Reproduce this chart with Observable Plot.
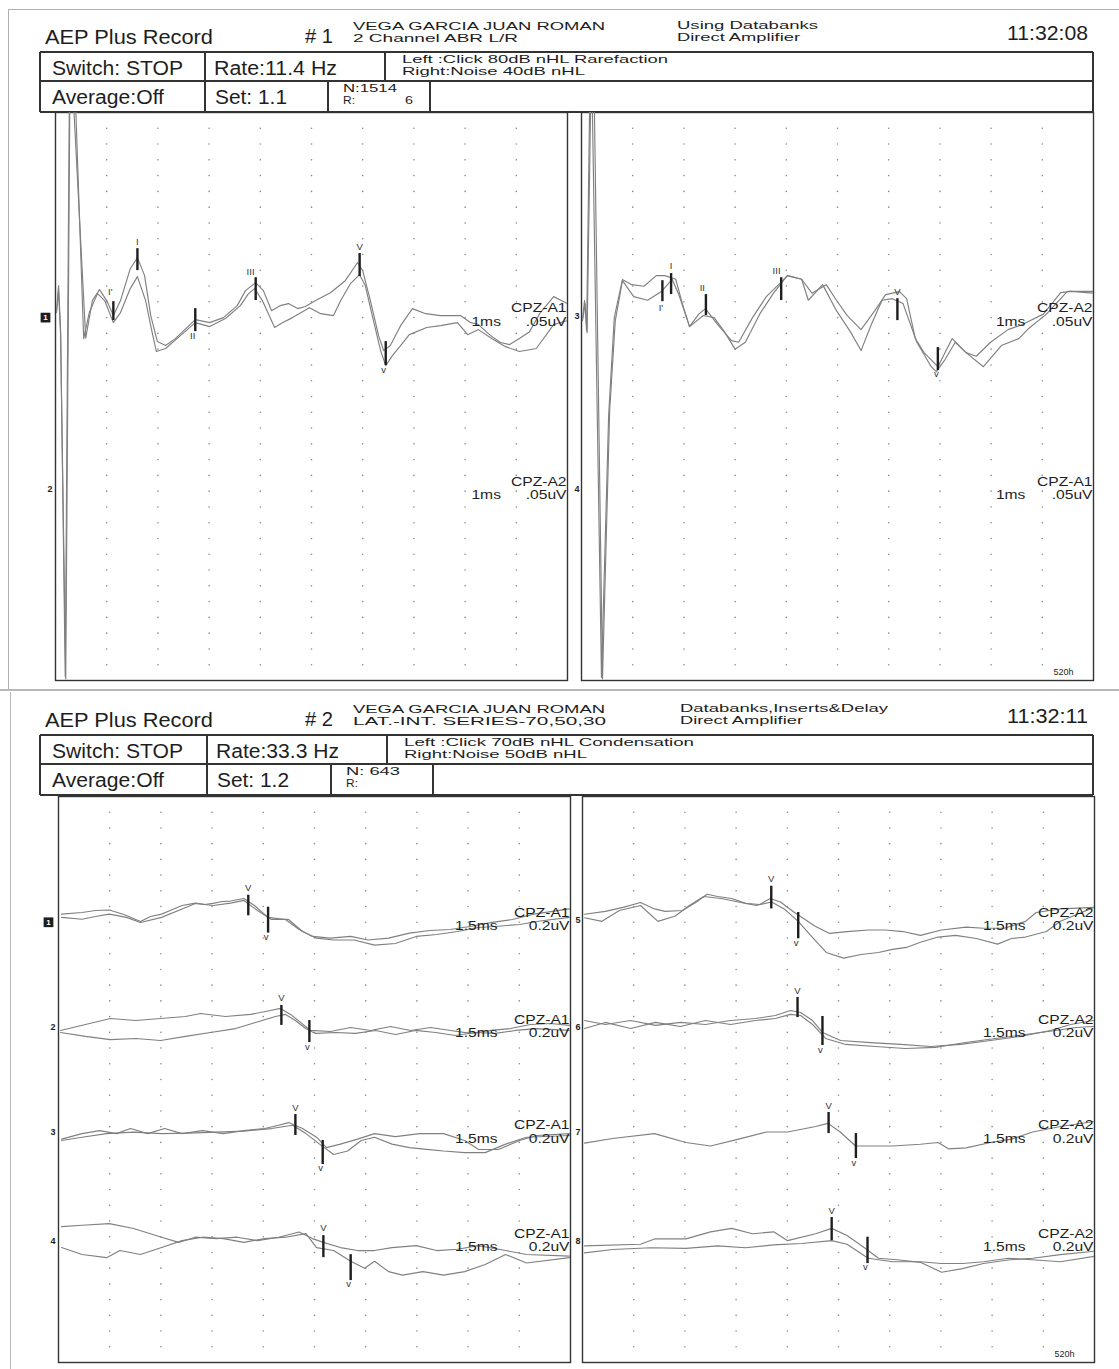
<!DOCTYPE html>
<html><head><meta charset="utf-8">
<script src="https://cdn.jsdelivr.net/npm/d3@7"></script>
<script src="https://cdn.jsdelivr.net/npm/@observablehq/plot@0.6"></script>
<style>
body{margin:0;background:#fff;}
#page{position:relative;width:1119px;height:1369px;overflow:hidden;background:#fff;font-family:"Liberation Sans",Arial,sans-serif;color:#1e1e1e;}
.t{position:absolute;white-space:nowrap;transform-origin:0 50%;line-height:1;}
.ln{position:absolute;}
.plot{position:absolute;}
</style></head><body><div id="page"></div>
<script>
// ---------------- DATA ----------------
// header texts
const rec1Header = {title:"AEP Plus Record", num:"# 1", patient:"VEGA GARCIA JUAN ROMAN", protocol:"2 Channel ABR L/R",
  bank:"Using Databanks", amp:"Direct Amplifier", time:"11:32:08", sw:"Switch: STOP", rate:"Rate:11.4 Hz",
  left:"Left :Click 80dB nHL Rarefaction", right:"Right:Noise 40dB nHL", avg:"Average:Off", set:"Set: 1.1", n:"N:1514", r:"R:", rv:"6"};
const rec2Header = {title:"AEP Plus Record", num:"# 2", patient:"VEGA GARCIA JUAN ROMAN", protocol:"LAT.-INT. SERIES-70,50,30",
  bank:"Databanks,Inserts&Delay", amp:"Direct Amplifier", time:"11:32:11", sw:"Switch: STOP", rate:"Rate:33.3 Hz",
  left:"Left :Click 70dB nHL Condensation", right:"Right:Noise 50dB nHL", avg:"Average:Off", set:"Set: 1.2", n:"N: 643", r:"R:", rv:""};

// channel baselines (grid rows from top of panel, 36 rows)
const rec1Base = [13, 24];
const rec2Base = [8, 14.8, 21.5, 28.4];
const rec1LeftNames = ["CPZ-A1","CPZ-A2"];
const rec1RightNames = ["CPZ-A2","CPZ-A1"];
const rec2LeftNames = ["CPZ-A1","CPZ-A1","CPZ-A1","CPZ-A1"];
const rec2RightNames = ["CPZ-A2","CPZ-A2","CPZ-A2","CPZ-A2"];
const rec1LeftNums = ["1","2"], rec1RightNums = ["3","4"];
const rec2LeftNums = ["1","2","3","4"], rec2RightNums = ["5","6","7","8"];

// traces: [time ms, amplitude in grid divisions above baseline]
const r1L_ch1_a = [[0.02,0.44],[0.06,2.03],[0.10,-0.82],[0.19,-22.75],[0.27,13.75],[0.35,13.75],[0.59,-1.3],[0.72,1.08],[0.86,1.77],[1.0,1.08],[1.13,0.13],[1.27,1.08],[1.46,3.1],[1.60,3.80],[1.74,2.66],[1.86,0.13],[1.99,-1.52],[2.15,-1.77],[2.34,-1.33],[2.73,-0.13],[3.01,-0.32],[3.28,0],[3.55,0.76],[3.71,1.71],[3.91,2.22],[4.06,1.71],[4.22,0.44],[4.39,0.76],[4.55,0.89],[4.73,0.57],[4.88,0.70],[5.08,1.08],[5.37,1.58],[5.66,2.34],[5.90,3.49],[6.00,2.98],[6.15,1.08],[6.31,-1.14],[6.41,-2.09],[6.54,-1.77],[6.74,-0.51],[6.97,0.57],[7.23,0.25],[7.52,0.13],[7.91,0.13],[8.11,-0.32],[8.26,-0.44],[8.50,-1.14],[8.69,-1.58],[8.87,-1.71],[9.06,-1.33],[9.26,-0.89],[9.47,0.32],[9.73,1.33],[10.0,0.89]];
const r1L_ch1_b = [[0.02,0.32],[0.06,1.71],[0.10,-1.14],[0.20,-22.9],[0.28,13.75],[0.39,13.75],[0.55,-1.33],[0.66,0.32],[0.82,1.52],[0.96,1.08],[1.13,-0.32],[1.27,0.32],[1.46,1.84],[1.60,2.60],[1.76,1.08],[1.88,-0.82],[1.97,-2.15],[2.15,-1.96],[2.44,-1.14],[2.73,-0.32],[3.01,-0.57],[3.32,-0.06],[3.61,0.76],[3.77,1.52],[3.89,1.84],[4.04,1.08],[4.28,-0.63],[4.43,-0.32],[4.63,0],[4.96,0.63],[5.18,0.25],[5.43,0.13],[5.57,1.08],[5.76,2.15],[5.94,2.72],[6.05,2.03],[6.21,-0.19],[6.35,-2.09],[6.45,-3.04],[6.58,-2.41],[6.74,-1.77],[6.91,-1.08],[7.25,-0.63],[7.52,-0.51],[7.85,-0.32],[8.05,-1.08],[8.26,-0.76],[8.52,-1.33],[8.79,-1.84],[9.06,-2.15],[9.39,-1.96],[9.73,-0.44],[10.0,-0.19]];
const r1R_ch1_a = [[0.02,-0.06],[0.06,1.08],[0.10,-0.82],[0.16,13.75],[0.21,13.75],[0.39,-22.8],[0.53,-6.21],[0.64,0],[0.80,2.41],[0.98,2.09],[1.22,1.99],[1.46,2.66],[1.63,2.66],[1.84,2.43],[1.97,0.89],[2.11,-0.57],[2.29,0.22],[2.42,0.57],[2.66,-0.44],[2.93,-1.46],[3.07,-1.56],[3.34,0],[3.61,1.33],[3.89,2.22],[4.02,2.66],[4.30,2.43],[4.50,1.55],[4.78,2.09],[4.98,1.10],[5.19,0.13],[5.46,-0.76],[5.73,0.44],[5.94,1.46],[6.21,1.65],[6.35,1.20],[6.52,-1.33],[6.69,-2.22],[6.96,-3.11],[7.24,-1.33],[7.51,-2.22],[7.71,-2.45],[7.99,-1.56],[8.33,-0.76],[8.61,-0.44],[9.02,0.22],[9.36,1.58],[9.56,1.66],[10.0,1.55]];
const r1R_ch1_b = [[0.02,-0.19],[0.07,0.89],[0.11,-0.95],[0.18,13.75],[0.25,13.75],[0.41,-22.9],[0.55,-5.89],[0.66,-0.19],[0.80,2.34],[1.02,1.33],[1.29,1.10],[1.56,1.65],[1.77,2.43],[1.90,1.46],[2.11,-0.57],[2.38,0.13],[2.59,0],[2.79,-0.89],[3.00,-2.00],[3.20,-1.56],[3.48,0.22],[3.75,1.55],[4.02,2.66],[4.30,2.43],[4.43,1.10],[4.71,2.09],[4.98,0.44],[5.25,-0.89],[5.46,-2.09],[5.66,-0.44],[5.87,1.10],[6.07,1.20],[6.28,0.89],[6.55,-1.56],[6.83,-3.11],[6.93,-3.42],[7.10,-2.66],[7.30,-1.56],[7.51,-2.22],[7.85,-3.11],[8.20,-1.77],[8.54,-1.33],[8.74,-0.67],[9.08,0.22],[9.49,1.66],[10.0,1.66]];

const r2L_ch1_a = [[0.09,0.52],[0.69,0.62],[1.08,0.75],[1.49,0.78],[1.82,0.56],[1.99,0.43],[2.40,0.05],[2.70,0.37],[3.02,0.52],[3.34,0.81],[3.62,1.07],[4.01,1.22],[4.28,1.13],[4.53,1.20],[4.80,1.32],[5.04,1.35],[5.43,1.51],[5.74,1.07],[6.14,0.31],[6.65,0.18],[7.05,-0.46],[7.44,-0.90],[7.96,-1.01],[8.56,-0.90],[9.07,-1.13],[9.67,-1.01],[10.28,-0.69],[10.88,-0.52],[11.48,-0.46],[12.10,-0.25],[12.70,-0.01],[13.30,0.18],[13.92,0.52],[14.97,0.85]];
const r2L_ch1_b = [[0.09,0.31],[0.69,0.19],[1.08,0.37],[1.49,0.52],[1.99,0.31],[2.40,-0.01],[3.02,0.31],[3.62,0.85],[4.01,1.20],[4.53,1.07],[5.04,1.22],[5.43,1.39],[5.83,0.75],[6.24,0.18],[6.74,0.18],[7.15,-0.59],[7.56,-1.01],[8.06,-1.13],[8.66,-1.13],[9.26,-1.45],[9.87,-1.35],[10.48,-0.90],[11.08,-0.78],[11.69,-0.59],[12.30,-0.33],[12.89,-0.25],[13.51,-0.14],[14.11,0.08],[14.97,0.31]];
const r2L_ch2_a = [[0.06,-0.08],[0.79,0.30],[1.52,0.68],[2.26,0.55],[2.99,0.68],[3.72,0.81],[4.16,1.0],[4.89,0.81],[5.63,0.94],[6.21,1.19],[6.50,1.32],[6.80,0.94],[7.09,0.43],[7.38,-0.08],[7.97,-0.15],[8.56,0.11],[9.14,-0.08],[9.73,0.17],[10.31,-0.08],[10.9,0.11],[11.49,-0.08],[12.07,-0.27],[12.66,-0.08],[13.24,0.04],[13.83,0.30],[14.42,0.36],[14.97,0.24]];
const r2L_ch2_b = [[0.06,-0.21],[0.79,-0.46],[1.52,-0.66],[2.26,-0.59],[2.99,-0.72],[3.72,-0.46],[4.45,-0.21],[5.19,0.04],[5.77,0.43],[6.36,0.81],[6.65,0.94],[6.94,0.55],[7.24,0.04],[7.53,-0.27],[8.12,-0.21],[8.70,-0.27],[9.29,-0.08],[9.87,-0.34],[10.46,-0.08],[11.05,-0.21],[11.63,-0.40],[12.22,-0.21],[12.80,-0.27],[13.39,-0.08],[13.98,0.04],[14.97,-0.08]];
const r2L_ch3_a = [[0.09,-0.29],[0.69,0.06],[1.20,0.25],[1.70,0.06],[2.11,0.38],[2.61,0.06],[3.11,0.38],[3.62,0.06],[4.22,0.25],[4.83,0.06],[5.43,0.25],[6.04,0.38],[6.45,0.59],[6.74,0.76],[7.15,0.38],[7.56,-0.17],[7.85,-0.83],[8.26,-0.61],[8.76,-0.29],[9.26,0.06],[9.87,-0.13],[10.58,0.06],[11.28,0.06],[11.90,-0.38],[12.31,-0.95],[12.89,-0.95],[13.51,-0.38],[14.01,-0.06],[14.97,0.06]];
const r2L_ch3_b = [[0.09,-0.38],[0.69,-0.17],[1.41,0.06],[2.20,0.15],[3.02,0.06],[3.81,0.09],[4.63,0.15],[5.43,0.22],[6.24,0.38],[6.86,0.59],[7.25,0.06],[7.65,-0.61],[8.06,-1.27],[8.47,-1.05],[8.87,-0.38],[9.26,-0.17],[9.77,-0.61],[10.28,-0.83],[10.78,-0.94],[11.28,-1.05],[11.90,-1.15],[12.50,-1.15],[13.10,-0.61],[13.71,-0.17],[14.97,-0.06]];
const r2L_ch4_a = [[0.09,1.04],[0.69,1.13],[1.49,1.23],[2.20,0.92],[3.02,0.37],[3.52,0.04],[4.01,0.37],[4.63,0.28],[5.23,0.37],[5.83,0.15],[6.45,0.37],[7.05,0.70],[7.44,0.28],[7.76,0.04],[8.26,-0.29],[8.76,-0.48],[9.26,-0.48],[9.77,-0.29],[10.48,-0.17],[11.08,-0.48],[11.69,-0.40],[12.30,-0.17],[13.10,-0.48],[13.71,-0.73],[14.97,-0.83]];
const r2L_ch4_b = [[0.09,-0.29],[0.69,-0.73],[1.41,-0.93],[1.80,-0.48],[2.40,-0.73],[3.02,-0.29],[3.62,0.15],[4.22,0.37],[4.83,0.28],[5.43,0.04],[6.04,0.28],[6.65,0.37],[7.25,0.60],[7.56,-0.29],[8.06,-0.48],[8.56,-1.16],[8.97,-1.60],[9.26,-1.16],[9.67,-1.82],[10.08,-2.04],[10.68,-1.82],[11.28,-2.04],[11.90,-1.82],[12.50,-1.37],[13.10,-0.73],[13.71,-1.27],[14.97,-0.93]];

const r2R_ch5_a = [[0.06,0.51],[0.67,0.69],[1.19,0.95],[1.70,1.26],[2.11,0.85],[2.42,0.69],[2.93,0.75],[3.34,1.29],[3.65,1.78],[3.96,1.64],[4.37,1.51],[4.78,1.20],[5.19,1.13],[5.50,1.51],[5.80,1.29],[6.21,0.62],[6.83,-0.27],[7.24,-0.71],[7.75,-0.59],[8.37,-0.49],[8.88,-0.49],[9.39,-0.59],[9.90,-0.83],[10.52,-0.49],[11.24,-0.31],[11.75,-0.38],[12.36,-0.38],[12.98,0.06],[13.29,0.62],[14.0,0.85],[14.99,0.95]];
const r2R_ch5_b = [[0.06,0.29],[0.57,0.06],[1.08,0.75],[1.70,1.07],[2.21,0.06],[2.72,0.40],[3.13,1.07],[3.55,1.64],[4.06,1.51],[4.57,1.29],[5.09,1.07],[5.54,1.29],[5.91,0.85],[6.32,0.06],[6.73,-0.94],[7.14,-1.92],[7.65,-2.28],[8.16,-2.05],[8.67,-1.92],[9.08,-1.72],[9.49,-1.60],[9.90,-1.27],[10.42,-0.94],[10.93,-0.83],[11.54,-1.03],[12.16,-1.39],[12.57,-1.03],[12.98,-0.94],[13.59,-0.59],[14.0,0.06],[14.99,0.95]];
const r2R_ch6_a = [[0.06,0.55],[0.67,0.30],[1.41,0.55],[2.14,0.24],[2.87,0.43],[3.60,0.30],[4.34,0.55],[5.07,0.68],[5.65,0.87],[6.09,1.19],[6.39,1.06],[6.74,0.55],[7.03,-0.21],[7.56,-0.72],[8.44,-0.85],[9.32,-0.97],[10.20,-1.10],[11.08,-0.97],[11.95,-0.72],[12.83,-0.46],[13.71,-0.08],[14.30,0.30],[14.97,0.55]];
const r2R_ch6_b = [[0.06,0.04],[0.67,0.43],[1.41,0.04],[2.14,0.43],[2.87,0.17],[3.60,0.55],[4.34,0.30],[5.07,0.55],[5.65,0.68],[6.09,0.94],[6.39,0.87],[6.74,0.30],[7.12,-0.59],[7.71,-0.97],[8.58,-1.10],[9.46,-1.23],[10.34,-1.16],[11.22,-0.85],[12.10,-0.59],[12.98,-0.34],[13.86,-0.08],[14.45,0.11],[14.97,0.17]];
const r2R_ch7 = [[0.06,-0.55],[0.88,-0.25],[2.11,0.06],[3.03,-0.51],[3.75,-0.73],[4.57,-0.29],[5.39,0.16],[6.01,0.16],[6.83,0.51],[7.19,0.71],[7.55,0.16],[8.0,-0.73],[8.67,-0.73],[9.08,-0.73],[9.90,-0.62],[10.42,-0.51],[10.72,-0.91],[11.24,-0.85],[11.95,-0.51],[12.57,-0.29],[13.19,0.16],[14.0,0.51],[14.99,0.83]];
const r2R_ch8_a = [[0.06,-0.18],[1.70,-0.08],[2.11,0.26],[3.03,0.26],[3.75,0.71],[4.37,0.93],[4.98,0.59],[5.60,0.71],[6.01,0.15],[6.83,0.59],[7.30,0.93],[7.75,0.48],[8.26,-0.30],[8.67,-0.97],[9.29,-1.08],[9.90,-1.23],[10.52,-1.86],[11.13,-1.63],[11.75,-1.30],[12.47,-1.08],[13.19,-0.97],[14.0,-0.74],[14.99,-0.52]];
const r2R_ch8_b = [[0.06,-0.63],[0.88,-0.41],[2.0,-0.30],[3.03,-0.34],[3.96,-0.18],[4.78,-0.30],[5.60,-0.12],[6.42,-0.03],[7.30,0.15],[7.75,-0.08],[8.37,-0.97],[9.08,-1.19],[9.90,-1.19],[10.52,-1.30],[11.13,-1.30],[11.75,-1.19],[12.47,-0.97],[13.29,-1.08],[14.0,-1.19],[14.99,-0.85]];

// wave markers: latency (ms), bar top/bottom (div), label, label level (div)
const r1L_marks = [
 {ch:0,t:1.13,top:1.01,bot:-0.19,label:"I'",lv:1.65,lt:1.07},
 {ch:0,t:1.60,top:4.37,bot:2.98,label:"I",lv:4.82},
 {ch:0,t:2.73,top:0.57,bot:-0.89,label:"II",lv:-1.15,lt:2.68},
 {ch:0,t:3.91,top:2.53,bot:1.08,label:"III",lv:2.9,lt:3.81},
 {ch:0,t:5.94,top:4.06,bot:2.60,label:"V",lv:4.45},
 {ch:0,t:6.45,top:-1.52,bot:-3.04,label:"v",lv:-3.3,lt:6.41}];
const r1R_marks = [
 {ch:0,t:1.58,top:2.34,bot:1.01,label:"I'",lv:0.6,lt:1.55},
 {ch:0,t:1.75,top:2.79,bot:1.46,label:"I",lv:3.25},
 {ch:0,t:2.43,top:1.46,bot:0.13,label:"II",lv:1.9,lt:2.36},
 {ch:0,t:3.90,top:2.53,bot:1.08,label:"III",lv:2.95,lt:3.81},
 {ch:0,t:6.17,top:1.20,bot:-0.19,label:"V",lv:1.65},
 {ch:0,t:6.96,top:-1.90,bot:-3.36,label:"v",lv:-3.6,lt:6.93}];
const r2L_marks = [
 {ch:0,t:5.56,top:1.72,bot:0.41,label:"V",lv:2.2},{ch:0,t:6.14,top:0.96,bot:-0.69,label:"v",lv:-0.95,lt:6.08},
 {ch:1,t:6.53,top:1.51,bot:0.24,label:"V",lv:1.96},{ch:1,t:7.35,top:0.55,bot:-0.85,label:"v",lv:-1.1,lt:7.29},
 {ch:2,t:6.94,top:1.27,bot:-0.06,label:"V",lv:1.72},{ch:2,t:7.74,top:-0.38,bot:-1.91,label:"v",lv:-2.15,lt:7.68},
 {ch:3,t:7.76,top:0.47,bot:-0.93,label:"V",lv:0.95},{ch:3,t:8.56,top:-0.74,bot:-2.39,label:"v",lv:-2.62,lt:8.5}];
const r2R_marks = [
 {ch:0,t:5.53,top:2.29,bot:0.85,label:"V",lv:2.74},{ch:0,t:6.32,top:0.62,bot:-1.05,label:"v",lv:-1.3,lt:6.26},
 {ch:1,t:6.30,top:2.02,bot:0.74,label:"V",lv:2.46},{ch:1,t:7.03,top:0.81,bot:-1.04,label:"v",lv:-1.3,lt:6.97},
 {ch:2,t:7.21,top:1.40,bot:0.06,label:"V",lv:1.84},{ch:2,t:8.01,top:0.06,bot:-1.53,label:"v",lv:-1.8,lt:7.95},
 {ch:3,t:7.30,top:1.62,bot:0.15,label:"V",lv:2.06},{ch:3,t:8.35,top:0.37,bot:-1.31,label:"v",lv:-1.55,lt:8.29}];

// ---------------- LAYOUT ----------------
const page = document.getElementById("page");
const INK = "#1e1e1e", TRACE = "#808080";
function txt(s, x, cy, size, w) {
  const el = document.createElement("div");
  el.className = "t"; el.textContent = s;
  el.style.left = x + "px"; el.style.top = (cy - size * 0.49) + "px"; el.style.fontSize = size + "px";
  page.appendChild(el);
  if (w) { const ow = el.getBoundingClientRect().width; if (ow > 0) el.style.transform = `scaleX(${w / ow})`; }
}
function ln(x1, y1, x2, y2, c = "#333", w = 1.3) {
  const el = document.createElement("div"); el.className = "ln"; el.style.background = c;
  if (y1 === y2) { el.style.left = x1 + "px"; el.style.top = (y1 - w / 2) + "px"; el.style.width = (x2 - x1) + "px"; el.style.height = w + "px"; }
  else { el.style.left = (x1 - w / 2) + "px"; el.style.top = y1 + "px"; el.style.width = w + "px"; el.style.height = (y2 - y1) + "px"; }
  page.appendChild(el);
}
function header(h, dy, cols) {
  txt(h.title, 45, 37 + dy, 20, 168);
  txt(h.num, 305, 36 + dy, 20, 28);
  txt(h.patient, 353, 27 + dy, 11.5, 252);
  txt(h.protocol, 353, 39 + dy, 11.5, cols.protW);
  txt(h.bank, cols.bankX, 26 + dy, 11.5, cols.bankW);
  txt(h.amp, cols.bankX, 38 + dy, 11.5, 123);
  txt(h.time, 1007, 33 + dy, 20, 81);
  const T = 52 + dy, M = 81 + dy, B = 112 + dy;
  ln(40, T, 1093, T); ln(40, M, 1093, M); ln(40, B, 1093, B);
  ln(40, T, 40, B); ln(1093, T, 1093, B);
  ln(cols.c1, T, cols.c1, B); ln(cols.c2, T, cols.c2, M); ln(cols.c3, M, cols.c3, B); ln(cols.c4, M, cols.c4, B);
  txt(h.sw, 52, 68 + dy, 20, 131);
  txt(h.rate, cols.c1 + 9, 68 + dy, 20, 123);
  txt(h.left, cols.c2 + 17, 59 + dy, 11, cols.leftW);
  txt(h.right, cols.c2 + 17, 71 + dy, 11, 183);
  txt(h.avg, 52, 97 + dy, 20, 112);
  txt(h.set, cols.c1 + 10, 97 + dy, 20, 72);
  txt(h.n, cols.c3 + 15, 88.5 + dy, 10.5, 54);
  txt(h.r, cols.c3 + 15, 100 + dy, 10.5, 12);
  if (h.rv) txt(h.rv, cols.c3 + 77, 100.5 + dy, 10.5, 8);
}
// page frames (scan borders)
ln(8, 9, 1119, 9, "#b0b0b0", 1); ln(8, 9, 8, 689, "#b0b0b0", 1); ln(0, 690, 1119, 690, "#b8b8b8", 1.2);
ln(10, 692, 10, 1369, "#b8b8b8", 1);
header(rec1Header, 0, {c1: 205, c2: 385, c3: 328, c4: 430, protW: 165, bankX: 677, bankW: 141, leftW: 266});
header(rec2Header, 683, {c1: 207, c2: 387, c3: 331, c4: 433, protW: 253, bankX: 680, bankW: 208, leftW: 290});

function panel(cfg) {
  const mL = 24, mR = 3, mT = 3, mB = 3;
  const data = [];
  cfg.series.forEach((s, i) => s.pts.forEach(([t, v]) => data.push({id: i, t, y: cfg.base[s.ch] - v})));
  const chans = cfg.base.map((b, i) => ({i, b, name: cfg.names[i], num: cfg.nums[i]}));
  const grid = [];
  for (let i = 1; i < 10; i++) for (let j = 1; j < 36; j++) grid.push({t: i * cfg.tMax / 10, y: j});
  const boxed = chans.filter(d => cfg.box && d.i === 0);
  const plain = chans.filter(d => !(cfg.box && d.i === 0));
  const svg = Plot.plot({
    width: mL + cfg.w + mR, height: mT + cfg.h + mB,
    marginLeft: mL, marginRight: mR, marginTop: mT, marginBottom: mB,
    x: {domain: [0, cfg.tMax], axis: null}, y: {domain: [36, 0], axis: null},
    style: {background: "transparent", overflow: "visible", fontFamily: "Liberation Sans, Arial, sans-serif"},
    marks: [
      Plot.dot(grid, {x: "t", y: "y", r: 0.8, fill: "#8a8a8a", stroke: null}),
      Plot.frame({stroke: "#333", strokeWidth: 1.4}),
      Plot.line(data, {x: "t", y: "y", z: "id", stroke: TRACE, strokeWidth: 1.15, clip: true}),
      Plot.ruleX(cfg.marks, {x: "t", y1: d => cfg.base[d.ch] - d.top, y2: d => cfg.base[d.ch] - d.bot, stroke: INK, strokeWidth: 2.4}),
      Plot.text(cfg.marks, {x: d => d.lt ?? d.t, y: d => cfg.base[d.ch] - d.lv, text: "label", fontSize: 9.5, fill: "#333", stroke: "#fff", strokeWidth: 0.01}),
      Plot.text(chans, {x: cfg.tMax, y: d => d.b - 0.6, text: "name", textAnchor: "end", dx: -1, fontSize: 13, fill: INK}),
      Plot.text(chans, {x: cfg.scaleT, y: d => d.b + 0.25, text: () => cfg.tScale, textAnchor: "end", fontSize: 13, fill: INK}),
      Plot.text(chans, {x: cfg.tMax, y: d => d.b + 0.25, text: () => cfg.vScale, textAnchor: "end", dx: -1, fontSize: 13, fill: INK}),
      Plot.dot(boxed, {x: 0, y: "b", dx: -10, symbol: "square", r: 5.5, fill: INK, stroke: null}),
      Plot.text(boxed, {x: 0, y: "b", dx: -10, text: "num", fontSize: 8, fill: "#fff", fontWeight: "bold"}),
      Plot.text(plain, {x: 0, y: "b", dx: cfg.numDx, dy: -2, text: "num", textAnchor: "end", fontSize: 9, fill: INK, fontWeight: "bold"}),
      cfg.tag ? Plot.text([cfg.tag], {x: cfg.tMax, y: 36, dx: -20, dy: -8, text: d => d, textAnchor: "end", fontSize: 9, fill: INK}) : null
    ]
  });
  svg.classList.add("plot");
  svg.style.left = (cfg.left - mL) + "px";
  svg.style.top = (cfg.top - mT) + "px";
  page.appendChild(svg);
  svg.querySelectorAll("text").forEach(el => {
    const fs = parseFloat(getComputedStyle(el).fontSize);
    if (fs >= 12) {
      const w = el.getComputedTextLength();
      el.setAttribute("textLength", (w * 1.2).toFixed(1));
      el.setAttribute("lengthAdjust", "spacingAndGlyphs");
    }
  });
}

panel({left: 55, top: 112, w: 512, h: 568, tMax: 10, base: rec1Base, names: rec1LeftNames, nums: rec1LeftNums, box: true, numDx: -3,
  series: [{ch: 0, pts: r1L_ch1_a}, {ch: 0, pts: r1L_ch1_b}], marks: r1L_marks, tScale: "1ms", vScale: ".05uV", scaleT: 8.7});
panel({left: 581, top: 112, w: 512, h: 568, tMax: 10, base: rec1Base, names: rec1RightNames, nums: rec1RightNums, box: false, numDx: -2,
  series: [{ch: 0, pts: r1R_ch1_a}, {ch: 0, pts: r1R_ch1_b}], marks: r1R_marks, tScale: "1ms", vScale: ".05uV", scaleT: 8.67, tag: "520h"});
panel({left: 58, top: 796, w: 512, h: 566, tMax: 15, base: rec2Base, names: rec2LeftNames, nums: rec2LeftNums, box: true, numDx: -3,
  series: [{ch: 0, pts: r2L_ch1_a}, {ch: 0, pts: r2L_ch1_b}, {ch: 1, pts: r2L_ch2_a}, {ch: 1, pts: r2L_ch2_b},
           {ch: 2, pts: r2L_ch3_a}, {ch: 2, pts: r2L_ch3_b}, {ch: 3, pts: r2L_ch4_a}, {ch: 3, pts: r2L_ch4_b}],
  marks: r2L_marks, tScale: "1.5ms", vScale: "0.2uV", scaleT: 12.86});
panel({left: 582, top: 796, w: 512, h: 566, tMax: 15, base: rec2Base, names: rec2RightNames, nums: rec2RightNums, box: false, numDx: -2,
  series: [{ch: 0, pts: r2R_ch5_a}, {ch: 0, pts: r2R_ch5_b}, {ch: 1, pts: r2R_ch6_a}, {ch: 1, pts: r2R_ch6_b},
           {ch: 2, pts: r2R_ch7}, {ch: 3, pts: r2R_ch8_a}, {ch: 3, pts: r2R_ch8_b}],
  marks: r2R_marks, tScale: "1.5ms", vScale: "0.2uV", scaleT: 12.98, tag: "520h"});
</script></body></html>
